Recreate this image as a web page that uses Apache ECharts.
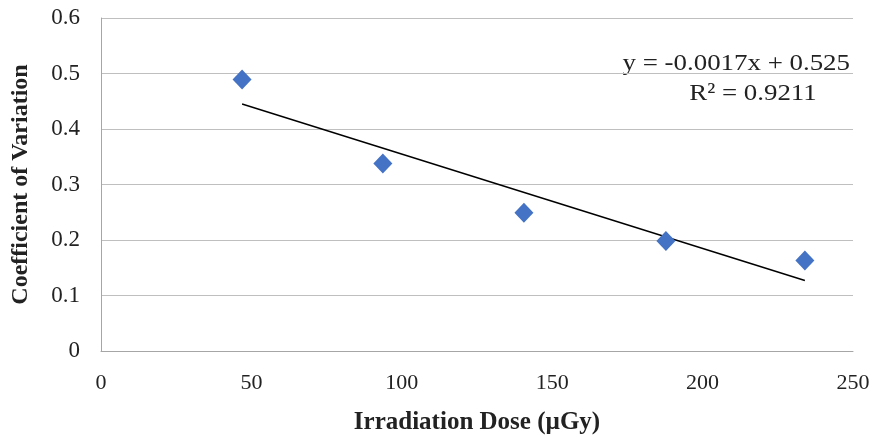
<!DOCTYPE html>
<html>
<head>
<meta charset="utf-8">
<script src="https://cdn.jsdelivr.net/npm/echarts@6/dist/echarts.min.js"></script>
<style>
  html, body { margin: 0; padding: 0; background: #fff; }
  #main { width: 875px; height: 437px; }
</style>
</head>
<body>
<div id="main"></div>
<script>
  // dose (µGy) and coefficient of variation
  var doses = [46.9, 93.7, 140.6, 187.8, 234];
  var cv = [0.489, 0.338, 0.249, 0.198, 0.163];
  // linear trendline end points
  var trendX = [46.9, 234];
  var trendY = [0.445, 0.127];
  var equation = 'y = -0.0017x + 0.525';
  var rSquared = 'R² = 0.9211';

  var font = '"Liberation Serif", "Times New Roman", serif';
  var myChart = echarts.init(document.getElementById('main'));

  var option = {
    animation: false,
    grid: { left: 101, right: 22, top: 18, bottom: 86, outerBoundsMode: 'none' },
    xAxis: {
      type: 'value',
      min: 0,
      max: 250,
      interval: 50,
      name: 'Irradiation Dose (µGy)',
      nameLocation: 'middle',
      nameGap: 59,
      nameTextStyle: { fontFamily: font, fontSize: 25, fontWeight: 'bold', color: '#222' },
      axisLine: { lineStyle: { color: '#a6a6a6' } },
      axisTick: { show: false },
      splitLine: { show: false },
      axisLabel: { fontFamily: font, fontSize: 22, color: '#222', margin: 21 }
    },
    yAxis: {
      type: 'value',
      min: 0,
      max: 0.6,
      interval: 0.1,
      name: 'Coefficient of Variation',
      nameLocation: 'middle',
      nameGap: 68,
      nameTextStyle: { fontFamily: font, fontSize: 24, fontWeight: 'bold', color: '#222' },
      axisLine: { show: true, lineStyle: { color: '#a6a6a6' } },
      axisTick: { show: false },
      splitLine: { lineStyle: { color: '#bfbfbf', width: 1 } },
      axisLabel: { fontFamily: font, fontSize: 23, color: '#222', margin: 21,
        formatter: function (v) { return v === 0 ? '0' : v.toFixed(1); } }
    },
    series: [
      {
        name: 'CV',
        type: 'scatter',
        symbol: 'diamond',
        symbolSize: [19, 20],
        itemStyle: { color: '#4472c4', opacity: 1 },
        data: doses.map(function (d, i) { return [d, cv[i]]; }),
        z: 3
      },
      {
        name: 'Trend',
        type: 'line',
        symbol: 'none',
        lineStyle: { color: '#000', width: 1.4 },
        data: trendX.map(function (d, i) { return [d, trendY[i]]; }),
        z: 2
      }
    ],
    graphic: [
      {
        type: 'text',
        x: 850,
        y: 52,
        scaleX: 1.12,
        style: { text: equation, font: '24px ' + font, fill: '#222',
          textAlign: 'right', textVerticalAlign: 'top' }
      },
      {
        type: 'text',
        x: 753,
        y: 82,
        scaleX: 1.12,
        style: { text: rSquared, font: '24px ' + font, fill: '#222',
          textAlign: 'center', textVerticalAlign: 'top' }
      }
    ]
  };

  myChart.setOption(option);
</script>
</body>
</html>
